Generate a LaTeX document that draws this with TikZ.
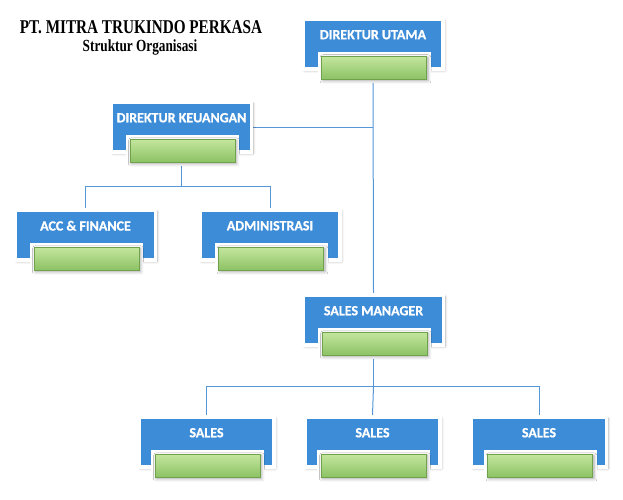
\documentclass[tikz,border=0pt]{standalone}
\usepackage{fontspec}
\setmainfont{Liberation Serif}
\newfontfamily\boxfont[BoldFont={Carlito Bold},BoldFeatures={FakeBold=0.8}]{Carlito}
\newfontfamily\titlefont[FakeStretch=0.78]{Liberation Serif}
\usetikzlibrary{backgrounds,shadows.blur}
\definecolor{blueM}{RGB}{60,140,216}
\definecolor{blueB}{RGB}{46,118,190}
\definecolor{greenT}{RGB}{196,230,158}
\definecolor{greenB}{RGB}{140,194,100}
\definecolor{greenEdge}{RGB}{112,162,78}
\definecolor{lineblue}{RGB}{84,150,214}
\tikzset{
  bluebox/.style={rectangle, minimum width=140pt, minimum height=50pt, inner sep=0pt,
    fill=blueM, draw=white, line width=3.5pt,
    blur shadow={shadow xshift=1.5pt, shadow yshift=-1.5pt, shadow blur radius=2.5pt, shadow opacity=35}},
  salesbox/.style={bluebox, minimum width=135pt},
  greenbox/.style={rectangle, minimum width=105pt, minimum height=23pt, inner sep=0pt,
    top color=greenT, bottom color=greenB, draw=greenEdge, line width=0.6pt,
    preaction={draw=white, line width=8pt},
    blur shadow={shadow xshift=1.5pt, shadow yshift=-1.5pt, shadow blur radius=3pt, shadow opacity=35}},
  boxtext/.style={text=white, font=\boxfont\bfseries\fontsize{14}{15}\selectfont, inner sep=0pt, anchor=center},
  conn/.style={draw=lineblue, line width=1pt},
}
\newcommand{\orgbox}[5]{% name, style, x, y, text
  \node[#2] (#1) at (#3,#4) {};
  \node[boxtext] (#1-t) at ([yshift=-17.5pt]#1.north) {#5};
  \node[greenbox] (#1-g) at ([xshift=1pt,yshift=3pt]#1.south) {};
}
\begin{document}
\begin{tikzpicture}[x=1pt,y=-1pt]
\useasboundingbox (0,0) rectangle (623,500);
\node[font=\titlefont\bfseries\fontsize{19.5}{20}\selectfont, inner sep=0pt] (title) at (141,27) {PT. MITRA TRUKINDO PERKASA};
\node[font=\titlefont\bfseries\fontsize{17}{18}\selectfont, inner sep=0pt] (subtitle) at (140,47) {Struktur Organisasi};

\orgbox{du}{bluebox}{373}{44}{DIREKTUR UTAMA}
\orgbox{dk}{bluebox}{181.5}{127}{DIREKTUR KEUANGAN}
\orgbox{acc}{bluebox}{85.5}{235}{ACC \& FINANCE}
\orgbox{adm}{bluebox}{270}{235}{ADMINISTRASI}
\orgbox{sm}{bluebox}{373.5}{320}{SALES MANAGER}
\orgbox{sa}{salesbox}{206.5}{442}{SALES}
\orgbox{sb}{salesbox}{372.5}{442}{SALES}
\orgbox{sc}{salesbox}{539}{442}{SALES}

\coordinate (dkbus) at (181.5,186);
\coordinate (smbus) at (373.5,386);
\begin{scope}[on background layer]
  \draw[conn] (du.south) -- (sm.north);
  \draw[conn] (dk.east) -- (dk.east -| du.south);
  \draw[conn] (dk.south) -- (dkbus) -| (acc.north);
  \draw[conn] (dkbus) -| (adm.north);
  \draw[conn] (sm.south) -- (smbus) -| (sa.north);
  \draw[conn] (smbus) -- (sb.north);
  \draw[conn] (smbus) -| (sc.north);
\end{scope}
\end{tikzpicture}
\end{document}
